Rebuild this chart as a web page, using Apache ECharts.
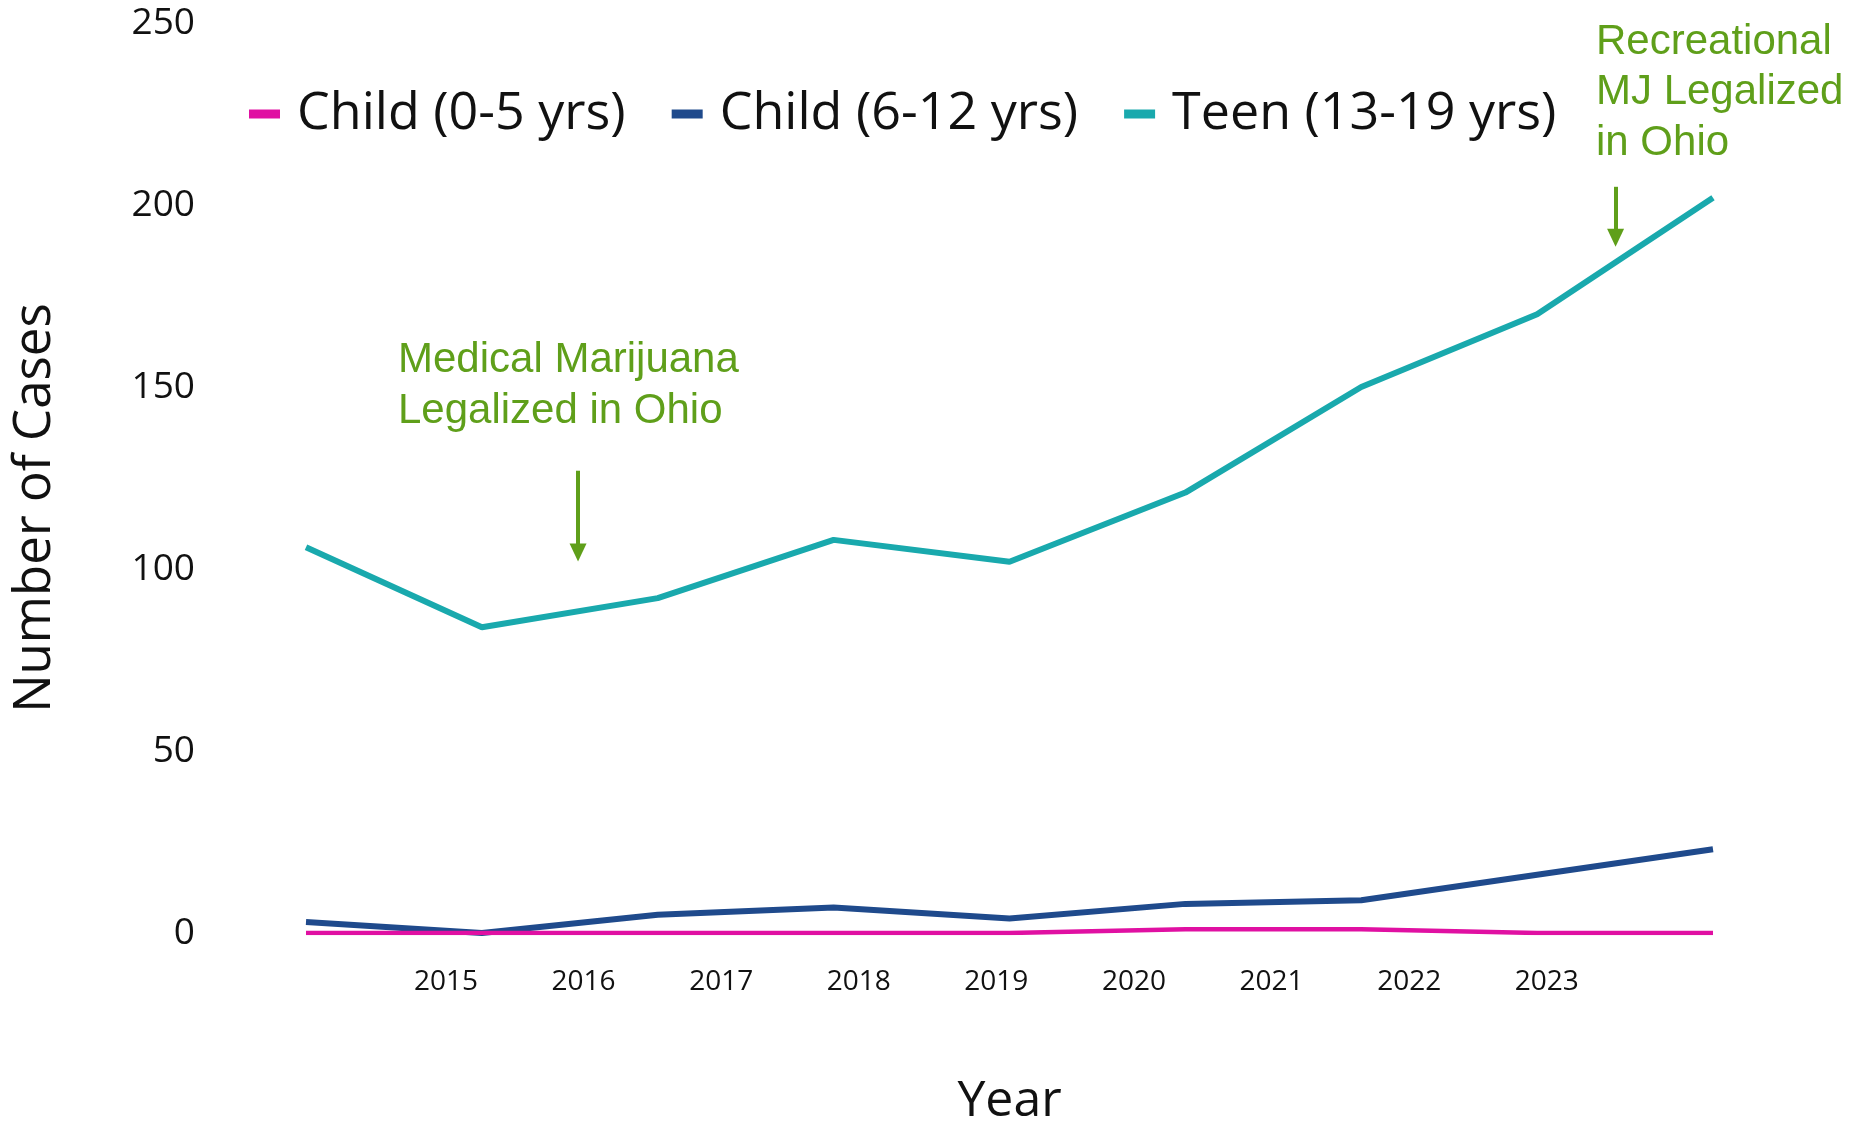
<!DOCTYPE html>
<html><head><meta charset="utf-8">
<script src="https://cdn.jsdelivr.net/npm/echarts@6/dist/echarts.min.js"></script>
<style>html,body{margin:0;padding:0;background:#fff}#c{width:1852px;height:1124px}</style>
</head><body><div id="c"></div>
<script>
const years = ['2015','2016','2017','2018','2019','2020','2021','2022','2023'];
const tickLabels = [2015,2016,2017,2018,2019,2020,2021,2022,2023];
const child05 = [0,0,0,0,0,1,1,0,0];
const child612 = [3,0,5,7,4,8,9,16,23];
const teen = [106,84,92,108,102,121,150,170,202];
const names = ['Child (0-5 yrs)','Child (6-12 yrs)','Teen (13-19 yrs)'];
const colors = ['#e010a2','#1f4a8c','#19a9ad'];
const green = '#5f9f1a';
const FONT = '"Open Sans", sans-serif';

const chart = echarts.init(document.getElementById('c'));
chart.setOption({
  animation:false,
  backgroundColor:'#fff',
  grid:{left:306,right:139,top:23,bottom:191,containLabel:false,outerBoundsMode:'none'},
  legend:{
    left:244, top:83, icon:'rect', itemWidth:31, itemHeight:9, itemGap:46,
    textStyle:{fontFamily:FONT, fontSize:52, color:'#111', padding:[0,0,0,12]},
    data:names
  },
  xAxis:[
    {type:'category', data:years, boundaryGap:false, show:false},
    {type:'value', position:'bottom', min:2013.983, max:2024.208,
     axisLine:{show:false}, axisTick:{show:false}, splitLine:{show:false},
     axisLabel:{customValues:tickLabels, formatter:v=>String(Math.round(v)), fontFamily:FONT, fontSize:28, color:'#111', margin:35},
     name:'Year', nameLocation:'middle', nameGap:144,
     nameTextStyle:{fontFamily:FONT, fontSize:50, color:'#111'}}
  ],
  yAxis:{type:'value', min:0, max:250, interval:50,
    axisLine:{show:false}, axisTick:{show:false}, splitLine:{show:false},
    axisLabel:{fontFamily:FONT, fontSize:37, color:'#111', margin:111},
    name:'Number of Cases', nameLocation:'middle', nameGap:245, nameRotate:90,
    nameTextStyle:{fontFamily:FONT, fontSize:51, color:'#111', padding:[0,60,0,0]}},
  series:[
    {name:names[0], type:'line', data:child05, xAxisIndex:0, symbol:'none', z:4,
     lineStyle:{color:colors[0], width:4.5}, itemStyle:{color:colors[0]}},
    {name:names[1], type:'line', data:child612, xAxisIndex:0, symbol:'none', z:3,
     lineStyle:{color:colors[1], width:6}, itemStyle:{color:colors[1]}},
    {name:names[2], type:'line', data:teen, xAxisIndex:0, symbol:'none', z:3,
     lineStyle:{color:colors[2], width:6}, itemStyle:{color:colors[2]}},
    {type:'line', xAxisIndex:1, data:[], silent:true,
     markLine:{silent:true, symbol:['none','triangle'], symbolSize:[17,18], label:{show:false},
       lineStyle:{color:green, width:4, type:'solid'},
       data:[
         [{coord:[2015.96,127]},{coord:[2015.96,104.5]}],
         [{coord:[2023.5,205]},{coord:[2023.5,191]}]
       ]}}
  ],
  graphic:[
    {type:'text', left:398, top:335, style:{text:'Medical Marijuana\nLegalized in Ohio', font:'42px "Liberation Sans", Arial, sans-serif', fill:green, lineHeight:51}},
    {type:'text', left:1596, top:17, style:{text:'Recreational\nMJ Legalized\nin Ohio', font:'42px "Liberation Sans", Arial, sans-serif', fill:green, lineHeight:50.5}}
  ]
});
</script></body></html>
